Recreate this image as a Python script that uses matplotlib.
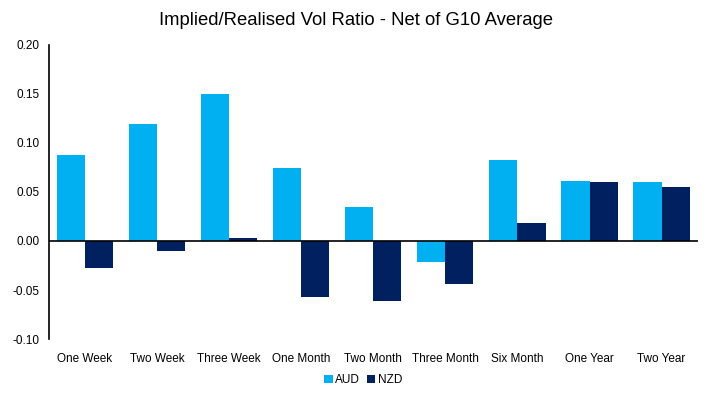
import matplotlib
matplotlib.use("Agg")
import matplotlib.pyplot as plt
import numpy as np

plt.rcParams['font.family'] = ['Liberation Sans', 'DejaVu Sans']

categories = ["One Week", "Two Week", "Three Week", "One Month", "Two Month",
              "Three Month", "Six Month", "One Year", "Two Year"]
aud = [0.088, 0.119, 0.150, 0.0745, 0.035, -0.021, 0.083, 0.061, 0.060]
nzd = [-0.028, -0.010, 0.003, -0.057, -0.061, -0.044, 0.018, 0.060, 0.055]
yticks = [-0.10, -0.05, 0.00, 0.05, 0.10, 0.15, 0.20]

fig = plt.figure(figsize=(7.12, 3.97), dpi=100)
ax = fig.add_axes([0.0688, 0.146, 0.911, 0.741])

x = np.arange(len(categories))
w = 0.39
ax.bar(x - w/2, aud, w, color="#00B0F0", label="AUD")
ax.bar(x + w/2, nzd, w, color="#002060", label="NZD")

ax.set_xlim(-0.5, len(categories) - 0.5)
ax.set_ylim(-0.10, 0.20)
ax.set_yticks(yticks)
ax.set_yticklabels([f"{v:.2f}" for v in yticks], fontsize=8.5)
ax.set_xticks(x)
ax.set_xticklabels(categories, fontsize=8.5)
ax.tick_params(axis='both', length=0, pad=7)
ax.tick_params(axis='x', pad=10)
ax.axhline(0, color="black", lw=1.2)
for s in ["top", "right", "bottom"]:
    ax.spines[s].set_visible(False)
ax.spines["left"].set_linewidth(1.2)

fig.suptitle("Implied/Realised Vol Ratio - Net of G10 Average", fontsize=13.3, y=0.97)
fig.legend(loc="lower center", bbox_to_anchor=(0.51, 0.0), ncol=2, frameon=False,
           fontsize=8.5, handlelength=0.7, handleheight=0.7, handletextpad=0.2,
           columnspacing=0.6)

fig.savefig("out.png", dpi=100)
